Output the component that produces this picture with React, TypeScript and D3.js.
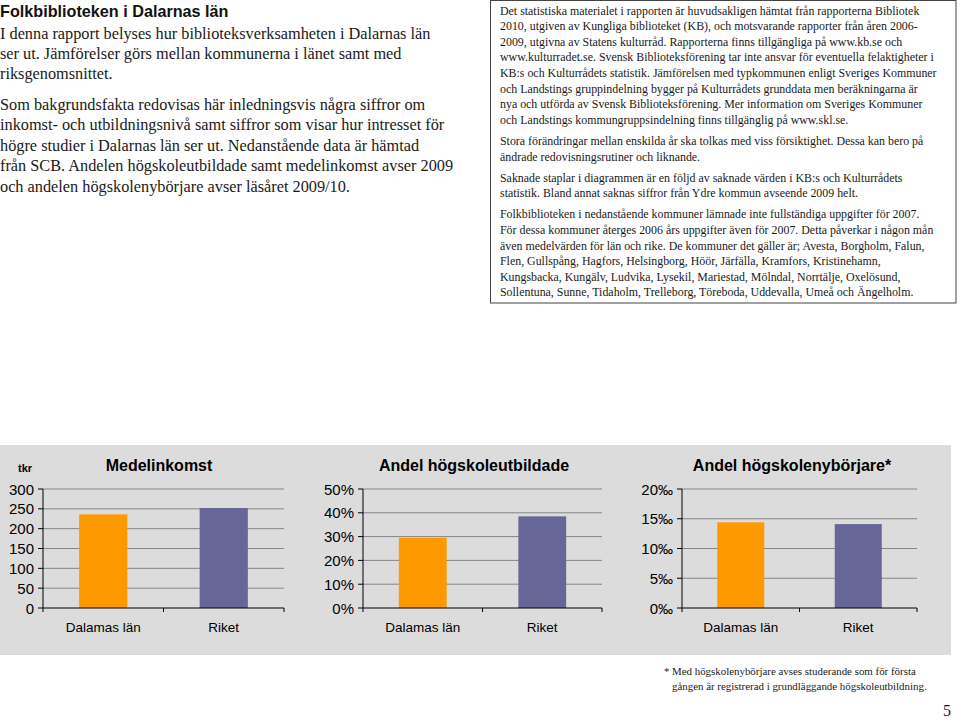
import React from "react";
import * as d3 from "d3";

const categories = ["Dalamas län", "Riket"];
const incomeValues = [236, 252];
const incomeTicks = [0, 50, 100, 150, 200, 250, 300];
const eduValues = [29.5, 38.5];
const eduTicks = [0, 10, 20, 30, 40, 50];
const newStudentValues = [14.4, 14.1];
const newStudentTicks = [0, 5, 10, 15, 20];
const barColors = ["#FF9900", "#666699"];

const leftTitle = "Folkbiblioteken i Dalarnas län";
const leftParagraphs = [
  [
    "I denna rapport belyses hur biblioteksverksamheten i Dalarnas län",
    "ser ut. Jämförelser görs mellan kommunerna i länet samt med",
    "riksgenomsnittet.",
  ],
  [
    "Som bakgrundsfakta redovisas här inledningsvis några siffror om",
    "inkomst- och utbildningsnivå samt siffror som visar hur intresset för",
    "högre studier i Dalarnas län ser ut. Nedanstående data är hämtad",
    "från SCB. Andelen högskoleutbildade samt medelinkomst avser 2009",
    "och andelen högskolenybörjare avser läsåret 2009/10.",
  ],
];

const boxParagraphs = [
  [
    "Det statistiska materialet i rapporten är huvudsakligen hämtat från rapporterna Bibliotek",
    "2010, utgiven av Kungliga biblioteket (KB), och motsvarande rapporter från åren 2006-",
    "2009, utgivna av Statens kulturråd. Rapporterna finns tillgängliga på www.kb.se och",
    "www.kulturradet.se. Svensk Biblioteksförening tar inte ansvar för eventuella felaktigheter i",
    "KB:s och Kulturrådets statistik. Jämförelsen med typkommunen enligt Sveriges Kommuner",
    "och Landstings gruppindelning bygger på Kulturrådets grunddata men beräkningarna är",
    "nya och utförda av Svensk Biblioteksförening. Mer information om Sveriges Kommuner",
    "och Landstings kommungruppsindelning finns tillgänglig på www.skl.se.",
  ],
  [
    "Stora förändringar mellan enskilda år ska tolkas med viss försiktighet. Dessa kan bero på",
    "ändrade redovisningsrutiner och liknande.",
  ],
  [
    "Saknade staplar i diagrammen är en följd av saknade värden i KB:s och Kulturrådets",
    "statistik. Bland annat saknas siffror från Ydre kommun avseende 2009 helt.",
  ],
  [
    "Folkbiblioteken i nedanstående kommuner lämnade inte fullständiga uppgifter för 2007.",
    "För dessa kommuner återges 2006 års uppgifter även för 2007. Detta påverkar i någon mån",
    "även medelvärden för län och rike. De kommuner det gäller är; Avesta, Borgholm, Falun,",
    "Flen, Gullspång, Hagfors, Helsingborg, Höör, Järfälla, Kramfors, Kristinehamn,",
    "Kungsbacka, Kungälv, Ludvika, Lysekil, Mariestad, Mölndal, Norrtälje, Oxelösund,",
    "Sollentuna, Sunne, Tidaholm, Trelleborg, Töreboda, Uddevalla, Umeå och Ängelholm.",
  ],
];

const footnoteLines = [
  "Med högskolenybörjare avses studerande som för första",
  "gången är registrerad i grundläggande högskoleutbildning.",
];

const SANS = "'Liberation Sans', Arial, sans-serif";
const SERIF = "'Liberation Serif', 'Times New Roman', serif";

type ChartProps = {
  x0: number;
  x1: number;
  title: string;
  titleX: number;
  values: number[];
  ticks: number[];
  fmt: (v: number) => string;
  unit?: string;
};

const Y_TOP = 489;
const Y_BOTTOM = 608;

function BarChart({ x0, x1, title, titleX, values, ticks, fmt, unit }: ChartProps) {
  const y = d3
    .scaleLinear()
    .domain([0, d3.max(ticks) as number])
    .range([Y_BOTTOM, Y_TOP]);
  const x = d3.scaleBand<string>().domain(categories).range([x0, x1]);
  const bw = x.bandwidth() * 0.4;
  return (
    <g>
      <text
        x={titleX}
        y={471}
        textAnchor="middle"
        fontFamily={SANS}
        fontSize={16}
        fontWeight="bold"
        fill="#000"
      >
        {title}
      </text>
      {unit && (
        <text x={18} y={472} fontFamily={SANS} fontSize={11} fontWeight="bold" fill="#000">
          {unit}
        </text>
      )}
      {ticks
        .filter((t) => t !== 0)
        .map((t) => (
          <line key={"g" + t} x1={x0} x2={x1} y1={y(t)} y2={y(t)} stroke="#858585" strokeWidth={1} />
        ))}
      {values.map((v, i) => (
        <rect
          key={"b" + i}
          x={(x(categories[i]) as number) + (x.bandwidth() - bw) / 2}
          y={y(v)}
          width={bw}
          height={Y_BOTTOM - y(v)}
          fill={barColors[i]}
        />
      ))}
      <line x1={x0} x2={x0} y1={Y_TOP} y2={Y_BOTTOM} stroke="#000" strokeWidth={1} />
      <line x1={x0} x2={x1} y1={Y_BOTTOM} y2={Y_BOTTOM} stroke="#000" strokeWidth={1} />
      {ticks.map((t) => (
        <g key={"t" + t}>
          <line x1={x0 - 5} x2={x0} y1={y(t)} y2={y(t)} stroke="#000" />
          <text
            x={x0 - 9}
            y={y(t) + 5.5}
            textAnchor="end"
            fontFamily={SANS}
            fontSize={15}
            fill="#000"
          >
            {fmt(t)}
          </text>
        </g>
      ))}
      {[x0, ...categories.map((c) => (x(c) as number) + x.bandwidth())].map((tx, i) => (
        <line key={"xt" + i} x1={tx} x2={tx} y1={Y_BOTTOM} y2={Y_BOTTOM + 4} stroke="#000" />
      ))}
      {categories.map((c) => (
        <text
          key={"c" + c}
          x={(x(c) as number) + x.bandwidth() / 2}
          y={632}
          textAnchor="middle"
          fontFamily={SANS}
          fontSize={13.5}
          fill="#000"
        >
          {c}
        </text>
      ))}
    </g>
  );
}

export default function App() {
  let boxLine = 0;
  return (
    <svg
      width={960}
      height={720}
      viewBox="0 0 960 720"
      style={{ position: "absolute", left: 0, top: 0, background: "#fff" }}
    >
      <rect x={0} y={0} width={960} height={720} fill="#fff" />
      {/* Left intro */}
      <text x={0} y={17} fontFamily={SANS} fontSize={16.2} fontWeight="bold" fill="#111">
        {leftTitle}
      </text>
      {leftParagraphs.map((p, pi) =>
        p.map((line, li) => {
          const idx = pi === 0 ? li : 3 + li;
          const yy = 38.5 + idx * 20.4 + pi * 10.3;
          return (
            <text key={pi + "-" + li} x={0} y={yy} fontFamily={SERIF} fontSize={16.3} fill="#1a1a1a">
              {line}
            </text>
          );
        })
      )}
      {/* Right info box */}
      <rect x={490.5} y={0.5} width={465.5} height={302.5} fill="none" stroke="#444" strokeWidth={1} />
      {boxParagraphs.map((p, pi) =>
        p.map((line, li) => {
          const yy = 14.5 + boxLine * 15.65 + pi * 5.3;
          boxLine += 1;
          return (
            <text key={"b" + pi + "-" + li} x={500} y={yy} fontFamily={SERIF} fontSize={11.9} fill="#1a1a1a">
              {line}
            </text>
          );
        })
      )}
      {/* Chart panel */}
      <rect x={0} y={445} width={951} height={210} fill="#dcdcdc" />
      <BarChart
        x0={43}
        x1={284}
        title="Medelinkomst"
        titleX={159}
        values={incomeValues}
        ticks={incomeTicks}
        fmt={(v) => String(v)}
        unit="tkr"
      />
      <BarChart
        x0={363}
        x1={602}
        title="Andel högskoleutbildade"
        titleX={474}
        values={eduValues}
        ticks={eduTicks}
        fmt={(v) => v + "%"}
      />
      <BarChart
        x0={682}
        x1={917}
        title="Andel högskolenybörjare*"
        titleX={792}
        values={newStudentValues}
        ticks={newStudentTicks}
        fmt={(v) => v + "‰"}
      />
      {/* Footnote */}
      <text x={664} y={675} fontFamily={SERIF} fontSize={10.9} fill="#1a1a1a">
        *
      </text>
      {footnoteLines.map((l, i) => (
        <text key={"f" + i} x={672} y={675 + i * 15} fontFamily={SERIF} fontSize={10.9} fill="#1a1a1a">
          {l}
        </text>
      ))}
      <text x={943} y={716} fontFamily={SERIF} fontSize={16} fill="#1a1a1a">
        5
      </text>
    </svg>
  );
}
